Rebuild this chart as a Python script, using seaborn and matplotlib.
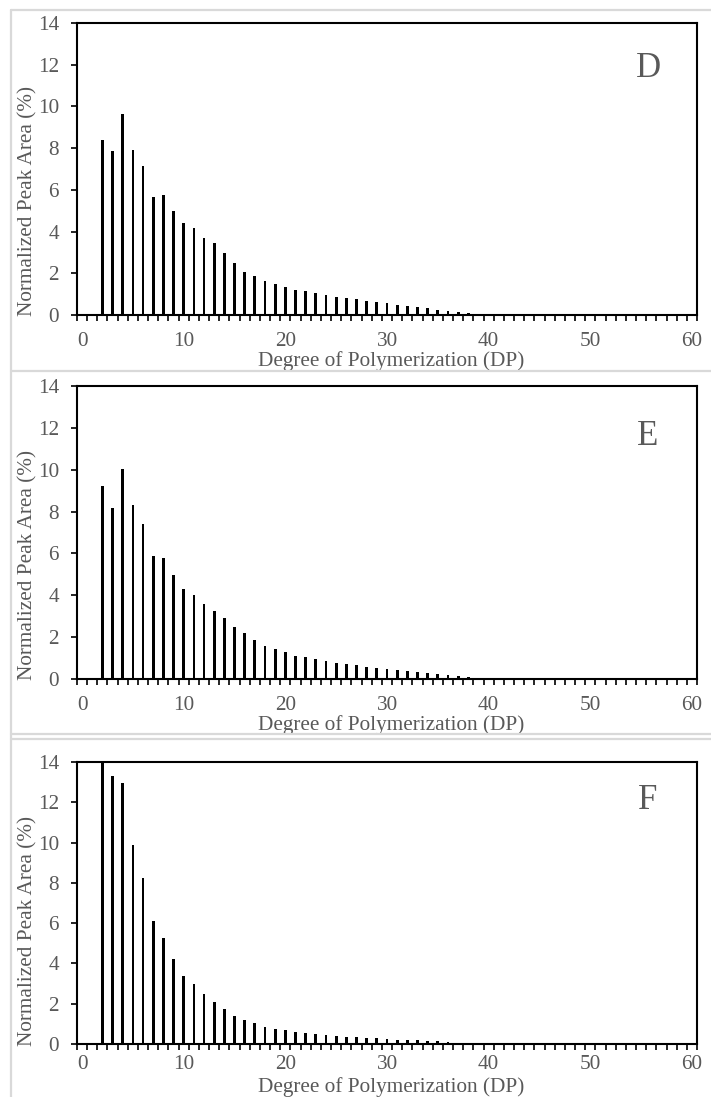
import numpy as np
import pandas as pd
import matplotlib
matplotlib.use("Agg")
import matplotlib.pyplot as plt
from matplotlib.lines import Line2D
import seaborn as sns

# ---------------- data ----------------
dp = list(range(2, 41))

panel_d = [8.39, 7.86, 9.66, 7.91, 7.14, 5.65, 5.73, 4.97, 4.42, 4.17,
           3.69, 3.43, 2.96, 2.48, 2.08, 1.88, 1.65, 1.47, 1.36, 1.19,
           1.14, 1.05, 0.96, 0.86, 0.80, 0.75, 0.67, 0.62, 0.58, 0.48,
           0.43, 0.38, 0.32, 0.26, 0.21, 0.14, 0.10, 0.06, 0.03]

panel_e = [9.20, 8.16, 10.03, 8.32, 7.41, 5.89, 5.77, 4.97, 4.28, 3.99,
           3.59, 3.26, 2.92, 2.49, 2.20, 1.87, 1.60, 1.45, 1.28, 1.12,
           1.05, 0.96, 0.86, 0.78, 0.72, 0.65, 0.58, 0.53, 0.48, 0.42,
           0.37, 0.32, 0.27, 0.22, 0.17, 0.12, 0.08, 0.05, 0.02]

panel_f = [14.0, 13.30, 12.97, 9.87, 8.22, 6.12, 5.26, 4.21, 3.38, 2.96,
           2.48, 2.08, 1.73, 1.40, 1.19, 1.02, 0.86, 0.74, 0.68, 0.58,
           0.55, 0.51, 0.45, 0.40, 0.37, 0.34, 0.30, 0.29, 0.25, 0.22,
           0.20, 0.18, 0.15, 0.13, 0.10, 0.07, 0.05, 0.03, 0.02]

panel_letters = ["D", "E", "F"]
x_ticks = [0, 10, 20, 30, 40, 50, 60]
y_ticks = [0, 2, 4, 6, 8, 10, 12, 14]
x_label = "Degree of Polymerization (DP)"
y_label = "Normalized Peak Area (%)"

# ---------------- style ----------------
sns.set_theme(style="white")
plt.rcParams["font.family"] = ["Liberation Serif", "DejaVu Serif"]
GRAY = "#595959"
FS = 15.3

W, H = 711, 1097
fig = plt.figure(figsize=(W / 100, H / 100), dpi=100)

# axes boxes in pixels: (left, right, top, bottom)
boxes = [(77, 697, 23, 315), (77, 697, 386, 679), (77, 697, 762, 1044)]
letter_y = [0.844, 0.826, 0.863]
xlabel_off = [46, 46, 43]
xtick_pad = [12, 12, 8]
series = [panel_d, panel_e, panel_f]

for (l, r, t, b), vals, letter, ly, xo, xp in zip(boxes, series, panel_letters,
                                                 letter_y, xlabel_off, xtick_pad):
    ax = fig.add_axes([l / W, 1 - b / H, (r - l) / W, (b - t) / H])
    df = pd.DataFrame({"DP": dp, "area": vals})
    sns.barplot(data=df, x="DP", y="area", native_scale=True, width=0.27,
                color="black", saturation=1, linewidth=0, ax=ax)
    ax.set_xlim(-0.5, 60.5)
    ax.set_ylim(0, 14)
    ax.set_xticks(x_ticks)
    ax.set_xticks(np.arange(-0.5, 61, 1.0), minor=True)
    ax.set_yticks(y_ticks)
    ax.tick_params(axis="x", which="major", length=0, pad=xp, labelsize=FS, labelcolor=GRAY)
    ax.tick_params(axis="x", which="minor", length=4, width=1.2, color="black",
                   direction="out", bottom=True)
    ax.tick_params(axis="y", which="major", length=4, width=1.2, color="black",
                   direction="out", left=True, pad=9, labelsize=FS, labelcolor=GRAY)
    for s in ["top", "right", "left", "bottom"]:
        ax.spines[s].set_visible(True)
        ax.spines[s].set_color("black")
        ax.spines[s].set_linewidth(1.5)
    ax.set_xlabel(x_label, fontsize=FS, color=GRAY, va="center")
    ax.xaxis.set_label_coords(0.507, -xo / (b - t))
    ax.set_ylabel(y_label, fontsize=FS, color=GRAY, va="center")
    ax.yaxis.set_label_coords(-49 / (r - l), 113.5 / (b - t))
    ax.text(0.921, ly, letter, transform=ax.transAxes, fontsize=25, color=GRAY,
            ha="center", va="center")
    ax.set_facecolor("white")

# light gray frames around the chart panels
frame_kw = dict(color="#d9d9d9", linewidth=1.6, transform=fig.transFigure)
fig.add_artist(Line2D([10.5 / W, 10.5 / W], [0, 1 - 10 / H], **frame_kw))
for yy in [10, 371, 734, 739]:
    fig.add_artist(Line2D([10.5 / W, 1], [1 - yy / H, 1 - yy / H], **frame_kw))

fig.savefig("out.png", dpi=100, facecolor="white")
